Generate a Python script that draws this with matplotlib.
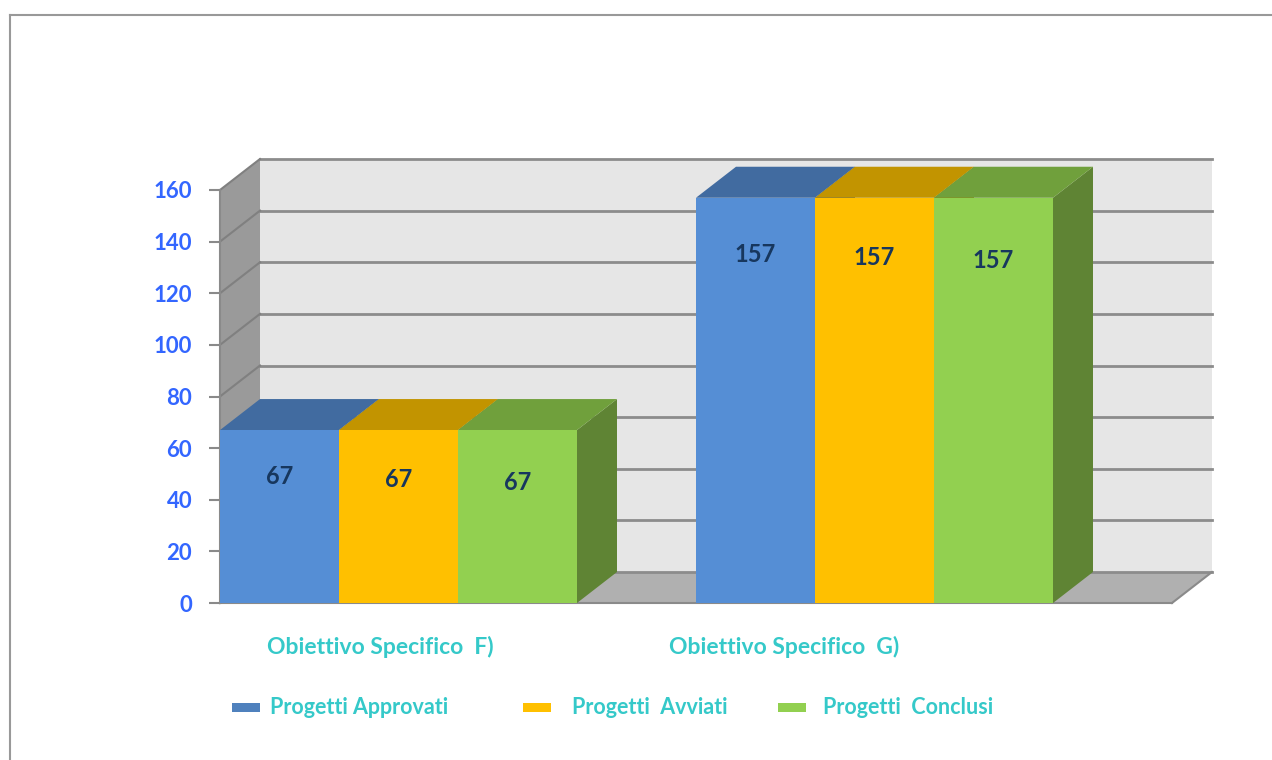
import matplotlib.pyplot as plt
from matplotlib.patches import Polygon, Rectangle
from matplotlib.lines import Line2D

categories = ['Obiettivo Specifico  F)', 'Obiettivo Specifico  G)']
series = ['Progetti Approvati', 'Progetti  Avviati', 'Progetti  Conclusi']
approvati = [67, 157]
avviati = [67, 157]
conclusi = [67, 157]
yticks = [0, 20, 40, 60, 80, 100, 120, 140, 160]

values = [approvati, avviati, conclusi]
front = ['#558ed5', '#ffc000', '#92d050']
top = ['#416ba0', '#c29400', '#70a03c']
side = ['#3a5f8f', '#a07a00', '#5f8434']
legend_col = ['#4f81bd', '#ffc000', '#92d050']

plt.rcParams['font.family'] = ['Lato', 'DejaVu Sans']

W, H = 1272, 760
fig = plt.figure(figsize=(W / 100, H / 100), dpi=100)
ax = fig.add_axes([220 / W, 157 / H, 952 / W, 413 / H])
ymax = 160
ax.set_xlim(0, len(categories))
ax.set_ylim(0, ymax)
ax.patch.set_visible(False)
for s in ['top', 'right', 'bottom']:
    ax.spines[s].set_visible(False)
ax.spines['left'].set_color('#8a8a8a')
ax.spines['left'].set_linewidth(1.5)
ax.spines['left'].set_zorder(3)

# depth of the 3d box in data units
dx = 40 / 476
dy = 31 / (413 / ymax)
n = len(categories)
bw = 0.25

# back wall, side wall, floor
ax.add_patch(Polygon([(dx, dy), (n + dx, dy), (n + dx, ymax + dy), (dx, ymax + dy)],
                     closed=True, fc='#e6e6e6', ec='none', zorder=0, clip_on=False))
ax.add_patch(Polygon([(0, 0), (dx, dy), (dx, ymax + dy), (0, ymax)],
                     closed=True, fc='#9a9a9a', ec='none', zorder=1, clip_on=False))
ax.add_patch(Polygon([(0, 0), (n, 0), (n + dx, dy), (dx, dy)],
                     closed=True, fc='#b0b0b0', ec='none', zorder=1, clip_on=False))
ax.plot([0, n], [0, 0], color='#8a8a8a', lw=1.5, zorder=2, clip_on=False)
ax.plot([n, n + dx], [0, dy], color='#8a8a8a', lw=1.5, zorder=2, clip_on=False)
for v in yticks:
    ax.plot([dx, n + dx], [v + dy, v + dy], color='#8c8c8c', lw=2, zorder=1, clip_on=False)
    ax.plot([0, dx], [v, v + dy], color='#808080', lw=1.5, zorder=2, clip_on=False)

# bars
for i in range(n):
    for j in range(len(series)):
        v = values[j][i]
        x0 = i + j * bw
        x1 = x0 + bw
        ax.add_patch(Polygon([(x1, 0), (x1 + dx, dy), (x1 + dx, v + dy), (x1, v)],
                             closed=True, fc=side[j], ec='none', zorder=4, clip_on=False))
        ax.add_patch(Polygon([(x0, v), (x1, v), (x1 + dx, v + dy), (x0 + dx, v + dy)],
                             closed=True, fc=top[j], ec='none', zorder=4, clip_on=False))
        ax.add_patch(Rectangle((x0, 0), bw, v, fc=front[j], ec='none', zorder=4))
        # labels sit a little below the top, dropping slightly to the right
        ax.text(x0 + bw / 2, v - 15 - 0.045 * v - 1.2 * j, str(v), ha='center', va='center',
                fontsize=17, fontweight='bold', color='#17375e', zorder=6)

ax.set_yticks(yticks)
ax.set_yticklabels([str(t) for t in yticks])
ax.tick_params(axis='y', length=8, width=1.5, color='#8a8a8a', pad=12,
               labelsize=16, labelcolor='#3366ff')
for lab in ax.get_yticklabels():
    lab.set_fontweight('bold')
ax.set_xticks([])

# category labels
cat_x = [0.336, 1.185]
for cx, c in zip(cat_x, categories):
    ax.text(cx, -17, c, ha='center', va='center', fontsize=16.5, fontweight='bold',
            color='#35c9c9', clip_on=False)

# legend (pixel positions of the swatches and their texts)
leg_x = [232, 523, 778]
leg_tx = [270, 572, 823]
for lx, tx, c, name in zip(leg_x, leg_tx, legend_col, series):
    fig.patches.append(Rectangle((lx / W, (H - 712) / H), 28 / W, 9 / H,
                                 fc=c, ec='none', transform=fig.transFigure))
    fig.text(tx / W, (H - 708) / H, name, ha='left', va='center',
             fontsize=15.5, fontweight='bold', color='#35c9c9')

# outer frame
fig.add_artist(Line2D([10 / W, 1], [(H - 15) / H, (H - 15) / H], color='#999999', lw=1.5))
fig.add_artist(Line2D([10 / W, 10 / W], [0, (H - 15) / H], color='#999999', lw=1.5))

fig.savefig('out.png', dpi=100)
